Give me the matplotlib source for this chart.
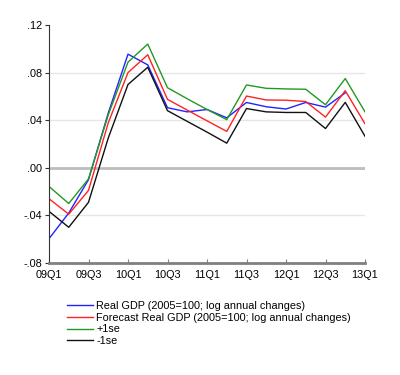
import numpy as np
import matplotlib.pyplot as plt

plt.rcParams['font.family'] = ['Liberation Sans', 'DejaVu Sans']

# kwartalen 09Q1 .. 13Q1
quarters = ['09Q1', '09Q2', '09Q3', '09Q4', '10Q1', '10Q2', '10Q3', '10Q4',
            '11Q1', '11Q2', '11Q3', '11Q4', '12Q1', '12Q2', '12Q3', '12Q4', '13Q1']
tick_labels = ['09Q1', '09Q3', '10Q1', '10Q3', '11Q1', '11Q3', '12Q1', '12Q3', '13Q1']

real_gdp = [-0.0596, -0.038, -0.010, 0.046, 0.0955, 0.0865, 0.0505, 0.047,
            0.049, 0.042, 0.0549, 0.0513, 0.0494, 0.0549, 0.051, 0.063]
forecast = [-0.026, -0.039, -0.019, 0.0378, 0.080, 0.095, 0.0575, 0.0485,
            0.0395, 0.0306, 0.0603, 0.057, 0.0568, 0.0557, 0.0426, 0.0648, 0.037]
plus_1se = [-0.0157, -0.030, -0.0093, 0.0445, 0.0888, 0.104, 0.0673, 0.058,
            0.049, 0.0405, 0.0696, 0.0668, 0.0663, 0.066, 0.053, 0.075, 0.047]
minus_1se = [-0.0366, -0.050, -0.029, 0.025, 0.070, 0.0845, 0.048, 0.039,
             0.030, 0.0207, 0.0498, 0.047, 0.0465, 0.0465, 0.033, 0.055, 0.0265]

x = np.arange(len(quarters))

fig = plt.figure(figsize=(4.0, 3.75), dpi=100)
ax = fig.add_axes([0.1225, 0.2987, 0.79, 0.6346])

# rasterlijnen
for g in [-0.04, 0.04, 0.08]:
    ax.axhline(g, color='#e6e6e6', lw=1.0, zorder=0)
ax.axhline(0.0, color='#bdbdbd', lw=2.0, zorder=0)

ax.plot(x[:len(real_gdp)], real_gdp, color='#2222ff', lw=1.0,
        label='Real GDP (2005=100; log annual changes)')
ax.plot(x, forecast, color='#ff2222', lw=1.0,
        label='Forecast Real GDP (2005=100; log annual changes)')
ax.plot(x, plus_1se, color='#229922', lw=1.0, label='+1se')
ax.plot(x, minus_1se, color='#111111', lw=1.0, label='-1se')

ax.set_xlim(0, len(quarters) - 1)
ax.set_ylim(-0.08, 0.12)
ax.set_xticks(x[::2])
ax.set_xticklabels(tick_labels)
ax.set_yticks([-0.08, -0.04, 0.0, 0.04, 0.08, 0.12])
ax.set_yticklabels(['-.08', '-.04', '.00', '.04', '.08', '.12'])

for s in ['top', 'right']:
    ax.spines[s].set_visible(False)
ax.spines['left'].set_color('#333333')
ax.spines['bottom'].set_color('#808080')
ax.spines['bottom'].set_linewidth(2.0)
ax.tick_params(axis='x', direction='in', length=3, color='#808080', labelsize=7.8, pad=5)
ax.tick_params(axis='y', direction='out', length=3, color='#333333', labelsize=7.8, pad=2)

fig.legend(loc='upper left', bbox_to_anchor=(0.1675, 0.197), frameon=False,
           fontsize=7.8, handlelength=2.4, handletextpad=0.3, labelspacing=0.15,
           borderpad=0, borderaxespad=0)

fig.savefig('out.png', dpi=100)
